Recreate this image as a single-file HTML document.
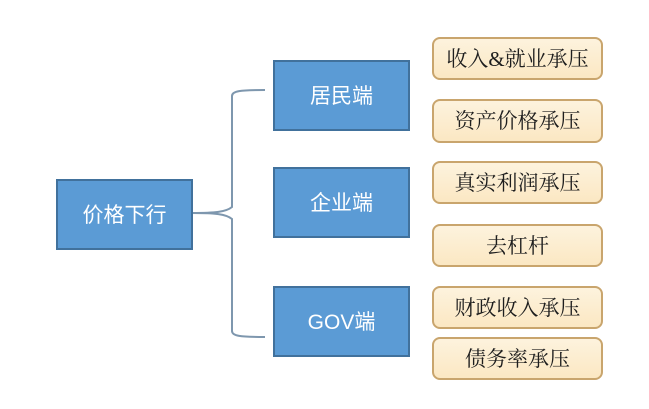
<!DOCTYPE html>
<html><head><meta charset="utf-8"><style>
html,body{margin:0;padding:0;background:#fff;}
svg{display:block;}
.bt{font-family:"Liberation Sans","Noto Sans CJK SC",sans-serif;font-size:21px;fill:#fff;}
.ct{font-family:"Liberation Serif","Noto Serif CJK SC",serif;font-size:21px;fill:#1e1e1e;}
</style></head><body>
<svg width="649" height="409" viewBox="0 0 649 409" xmlns="http://www.w3.org/2000/svg">
<defs>
<linearGradient id="g" x1="0" y1="0" x2="0" y2="1">
<stop offset="0" stop-color="#fdf3de"/><stop offset="1" stop-color="#fbe7c2"/>
</linearGradient>
</defs>
<rect width="649" height="409" fill="#fff"/>
<!-- bracket -->
<g fill="none" stroke="#7e97ae" stroke-width="2">
<path d="M192,213 C215,213 226,212 232,207 L232,96 C232,91 240,90 265,90"/>
<path d="M192,213 C215,213 226,214 232,219 L232,331 C232,336 240,337 265,337"/>
</g>
<!-- blue boxes -->
<g fill="#5b9bd5" stroke="#41719c" stroke-width="2">
<rect x="57" y="180" width="135" height="69"/>
<rect x="274" y="61" width="135" height="69"/>
<rect x="274" y="168" width="135" height="69"/>
<rect x="274" y="287" width="135" height="69"/>
</g>
<text class="bt" x="124.5" y="222" text-anchor="middle">价格下行</text>
<text class="bt" x="341.5" y="103" text-anchor="middle">居民端</text>
<text class="bt" x="341.5" y="210" text-anchor="middle">企业端</text>
<text class="bt" x="341.5" y="329" text-anchor="middle">GOV端</text>
<!-- beige boxes -->
<g fill="url(#g)" stroke="#c9a56d" stroke-width="2">
<rect x="433" y="38" width="169" height="41" rx="7"/>
<rect x="433" y="100" width="169" height="42" rx="7"/>
<rect x="433" y="162" width="169" height="41" rx="7"/>
<rect x="433" y="225" width="169" height="41" rx="7"/>
<rect x="433" y="287" width="169" height="41" rx="7"/>
<rect x="433" y="338" width="169" height="41" rx="7"/>
</g>
<text class="ct" x="517.5" y="66" text-anchor="middle">收入&amp;就业承压</text>
<text class="ct" x="517.5" y="128" text-anchor="middle">资产价格承压</text>
<text class="ct" x="517.5" y="190" text-anchor="middle">真实利润承压</text>
<text class="ct" x="517.5" y="253" text-anchor="middle">去杠杆</text>
<text class="ct" x="517.5" y="315" text-anchor="middle">财政收入承压</text>
<text class="ct" x="517.5" y="366" text-anchor="middle">债务率承压</text>
</svg>
</body></html>
